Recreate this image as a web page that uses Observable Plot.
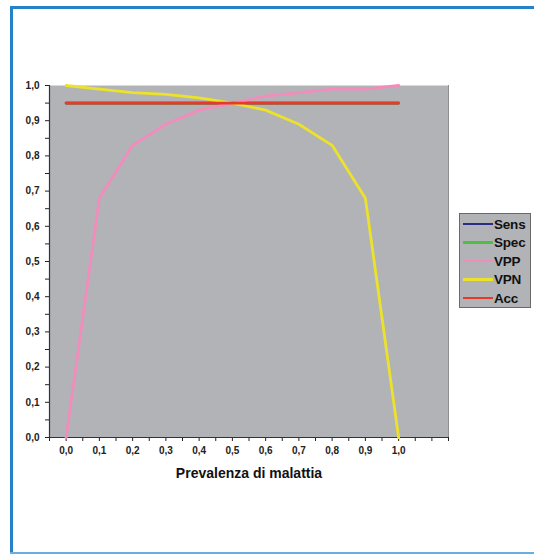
<!DOCTYPE html>
<html>
<head>
<meta charset="utf-8">
<script src="https://cdn.jsdelivr.net/npm/d3@7"></script>
<script src="https://cdn.jsdelivr.net/npm/@observablehq/plot@0.6"></script>
<style>
  html, body { margin: 0; padding: 0; background: #ffffff; }
  #wrap { position: relative; width: 534px; height: 555px; overflow: hidden; font-family: "Liberation Sans", Arial, sans-serif; }
  #chart { position: absolute; left: 0; top: 0; }
  .frame { position: absolute; }
  #legend { position: absolute; left: 459px; top: 213px; width: 72px; height: 95px; background: #b2b3b6; border: 1px solid #6a6a6a; box-sizing: border-box; }
  .item { position: absolute; left: 3px; height: 16px; display: flex; align-items: center; }
  .item span.sw { display: inline-block; width: 30px; height: 2.5px; margin-right: 1px; }
  .item span.lb { font-weight: bold; font-size: 13.5px; color: #111; letter-spacing: -0.2px; }
</style>
</head>
<body>
<div id="wrap">
  <div id="chart"></div>
  <div class="frame" style="left:10px; top:6px; width:524px; height:3px; background:#2582c6;"></div>
  <div class="frame" style="left:10px; top:6px; width:3px; height:548px; background:#2582c6;"></div>
  <div class="frame" style="left:10px; top:552px; width:524px; height:2px; background:#6aaee0;"></div>
  <div id="legend"></div>
</div>
<script>
// Prevalence categories (x)
const prevalence = [0, 0.1, 0.2, 0.3, 0.4, 0.5, 0.6, 0.7, 0.8, 0.9, 1.0];
// Series values
const sens = [0.95, 0.95, 0.95, 0.95, 0.95, 0.95, 0.95, 0.95, 0.95, 0.95, 0.95];
const spec = [0.95, 0.95, 0.95, 0.95, 0.95, 0.95, 0.95, 0.95, 0.95, 0.95, 0.95];
const vpp  = [0.00, 0.68, 0.83, 0.89, 0.93, 0.95, 0.97, 0.98, 0.99, 0.99, 1.00];
const vpn  = [1.00, 0.99, 0.98, 0.975, 0.965, 0.95, 0.93, 0.89, 0.83, 0.68, 0.00];
const acc  = [0.95, 0.95, 0.95, 0.95, 0.95, 0.95, 0.95, 0.95, 0.95, 0.95, 0.95];
const seriesNames = ["Sens", "Spec", "VPP", "VPN", "Acc"];
const seriesColors = ["#2b2b88", "#4cc043", "#f28cbc", "#ece22a", "#e8392a"];
const xTitle = "Prevalenza di malattia";

const seriesValues = [sens, spec, vpp, vpn, acc];
const rows = [];
seriesNames.forEach((name, i) => {
  prevalence.forEach((p, j) => rows.push({series: name, x: p, y: seriesValues[i][j]}));
});

const fmt = d => d.toFixed(1).replace(".", ",");
const xTicks = d3.range(-0.05, 1.16, 0.05).map(v => Math.round(v * 100) / 100);
const yTicks = d3.range(0, 1.001, 0.05).map(v => Math.round(v * 100) / 100);
const isTenth = v => Math.abs(Math.round(v * 10) - v * 10) < 1e-6;

const chart = Plot.plot({
  width: 534,
  height: 555,
  marginLeft: 49,
  marginRight: 86,
  marginTop: 85,
  marginBottom: 118,
  style: {background: "transparent", fontFamily: "'Liberation Sans', Arial, sans-serif", color: "#222"},
  x: {domain: [-0.05, 1.15]},
  y: {domain: [0, 1]},
  color: {domain: seriesNames, range: seriesColors},
  marks: [
    Plot.frame({fill: "#b2b3b6"}),
    Plot.ruleX([1.15], {stroke: "#8e8e90", strokeWidth: 1}),
    Plot.axisX({ticks: xTicks, tickSize: 4, tickPadding: 5, label: null,
      tickFormat: d => (isTenth(d) && d >= 0 && d <= 1.0001) ? fmt(d) : "",
      fontSize: 10, fontWeight: "bold"}),
    Plot.axisY({ticks: yTicks, tickSize: 4, tickPadding: 6, label: null,
      tickFormat: d => isTenth(d) ? fmt(d) : "",
      fontSize: 10, fontWeight: "bold"}),
    Plot.ruleX([-0.05], {stroke: "#333", strokeWidth: 1.2}),
    Plot.ruleY([0], {stroke: "#333", strokeWidth: 1.2}),
    Plot.line(rows, {x: "x", y: "y", z: "series", stroke: "series", strokeWidth: 2.8}),
    Plot.text([xTitle], {frameAnchor: "bottom", lineAnchor: "middle", dy: 36,
      fontSize: 14, fontWeight: "bold", fill: "#111"})
  ]
});
document.getElementById("chart").appendChild(chart);

// Legend
const legend = document.getElementById("legend");
seriesNames.forEach((name, i) => {
  const item = document.createElement("div");
  item.className = "item";
  item.style.top = (2 + i * 18.5) + "px";
  item.innerHTML = `<span class="sw" style="background:${seriesColors[i]}"></span><span class="lb">${name}</span>`;
  legend.appendChild(item);
});
</script>
</body>
</html>
